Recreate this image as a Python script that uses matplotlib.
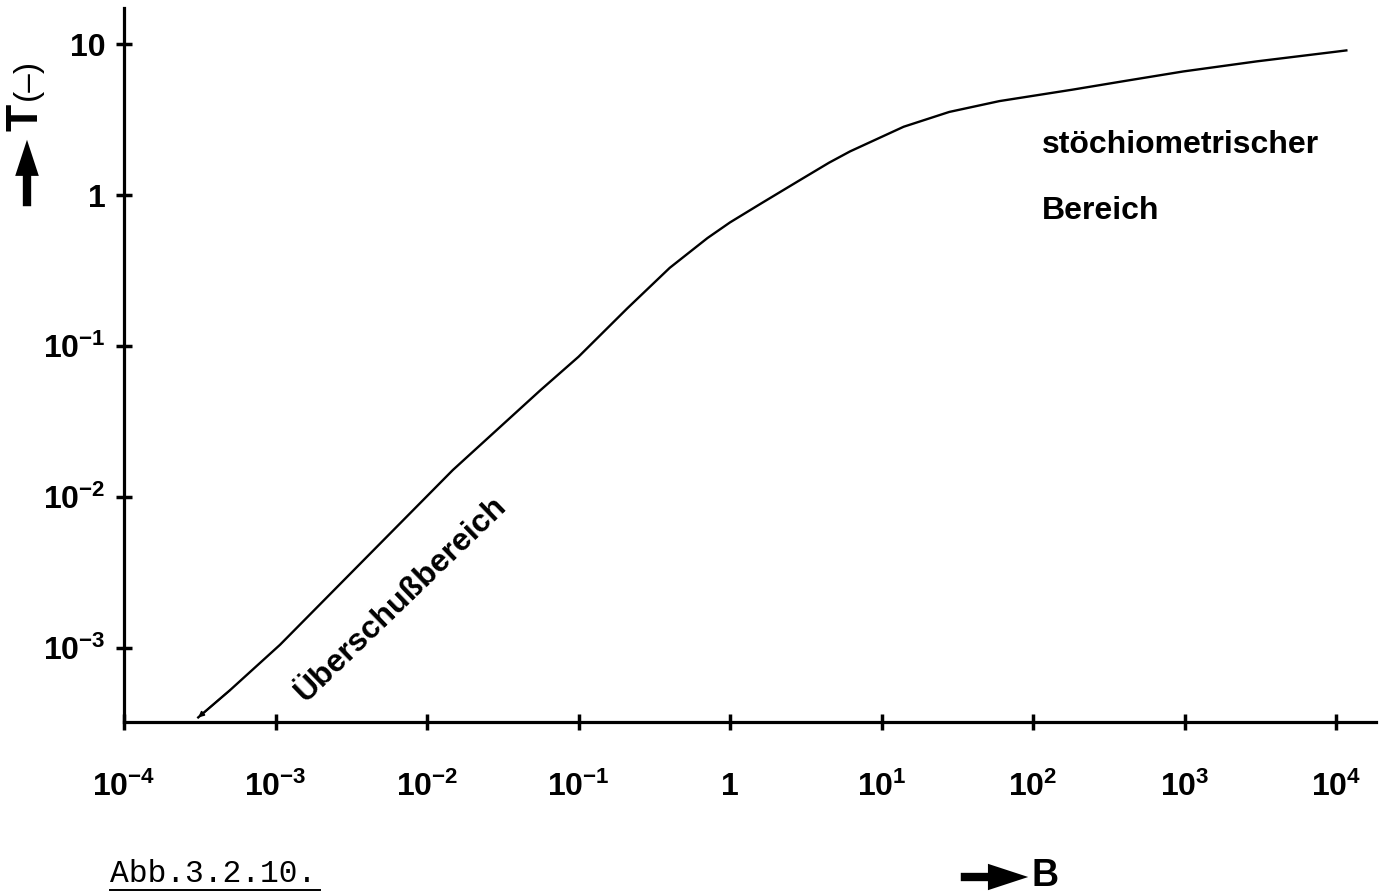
import numpy as np
import matplotlib.pyplot as plt
import matplotlib.patches as mpatches
from matplotlib.ticker import FixedLocator, NullLocator
from matplotlib.lines import Line2D

plt.rcParams['font.family'] = ['Liberation Sans', 'DejaVu Sans']
plt.rcParams['mathtext.fontset'] = 'custom'
plt.rcParams['mathtext.rm'] = 'Liberation Sans:bold'
plt.rcParams['mathtext.bf'] = 'Liberation Sans:bold'
plt.rcParams['mathtext.it'] = 'Liberation Sans:bold'

# curve (B, T)
B = [3.09e-4, 5.0e-4, 1.07e-3, 3.8e-3, 1.48e-2, 5.6e-2, 0.1, 0.21, 0.4,
     0.71, 1.0, 1.6, 2.9, 4.5, 6.2, 14, 28, 60, 182, 400, 980, 3000,
     9800, 11700]
T = [3.47e-4, 5.25e-4, 1.05e-3, 3.8e-3, 1.51e-2, 5.1e-2, 0.085, 0.178, 0.33,
     0.52, 0.66, 0.88, 1.26, 1.64, 1.95, 2.84, 3.56, 4.2, 5.0, 5.7, 6.6, 7.7,
     8.9, 9.1]

x_ticks = [1e-4, 1e-3, 1e-2, 1e-1, 1, 1e1, 1e2, 1e3, 1e4]
x_labels = [r'$10^{-4}$', r'$10^{-3}$', r'$10^{-2}$', r'$10^{-1}$', '1',
            r'$10^{1}$', r'$10^{2}$', r'$10^{3}$', r'$10^{4}$']
y_ticks = [1e-3, 1e-2, 1e-1, 1, 10]
y_labels = [r'$10^{-3}$', r'$10^{-2}$', r'$10^{-1}$', '1', '10']

W, H = 1385, 893
fig = plt.figure(figsize=(13.85, 8.93), dpi=100)
ax = fig.add_axes([124 / W, 1 - 722 / H, (1376 - 124) / W, (722 - 8) / H])

ax.plot(B, T, color='black', lw=1.7)
ax.annotate('', xy=(B[0], T[0]), xytext=(B[1], T[1]),
            arrowprops=dict(arrowstyle='-|>', color='black', lw=1.2,
                            mutation_scale=8, shrinkA=0, shrinkB=0))

ax.set_xscale('log')
ax.set_yscale('log')
ax.set_xlim(1e-4, 10 ** 4.264)
ax.set_ylim(10 ** -3.49, 10 ** 1.24)

for s in ['top', 'right']:
    ax.spines[s].set_visible(False)
for s in ['left', 'bottom']:
    ax.spines[s].set_linewidth(2.3)

ax.xaxis.set_major_locator(FixedLocator(x_ticks))
ax.xaxis.set_minor_locator(NullLocator())
ax.yaxis.set_major_locator(FixedLocator(y_ticks))
ax.yaxis.set_minor_locator(NullLocator())
ax.set_xticklabels(x_labels)
ax.set_yticklabels(y_labels)

ax.tick_params(axis='both', direction='inout', length=12, width=2.5,
               labelsize=23)
ax.tick_params(axis='x', pad=30)
ax.tick_params(axis='y', pad=7)
for lab in ax.get_xticklabels() + ax.get_yticklabels():
    lab.set_fontweight('bold')

# region labels
ax.text(1.7e-3, 4.0e-4, 'Überschußbereich', rotation=44, fontsize=23,
        fontweight='bold', ha='left', va='bottom', rotation_mode='anchor')
ax.text(115, 2.14, 'stöchiometrischer', fontsize=23, fontweight='bold',
        ha='left', va='center')
ax.text(115, 0.78, 'Bereich', fontsize=23, fontweight='bold',
        ha='left', va='center')

# y label with arrow
fig.text(26 / W, 1 - 117 / H, 'T', rotation=90, fontsize=32,
         fontweight='bold', ha='center', va='center')
fig.text(27 / W, 1 - 79 / H, '(–)', rotation=90, fontsize=24,
         ha='center', va='center')
fig.patches.append(mpatches.FancyArrowPatch(
    (27 / W, 1 - 209 / H), (27 / W, 1 - 137 / H), transform=fig.transFigure,
    arrowstyle='simple,head_length=1.3,head_width=0.85,tail_width=0.3',
    mutation_scale=20, lw=0, color='black'))

# x label with arrow
fig.patches.append(mpatches.FancyArrowPatch(
    (958 / W, 1 - 877 / H), (1031 / W, 1 - 877 / H), transform=fig.transFigure,
    arrowstyle='simple,head_length=1.45,head_width=0.95,tail_width=0.3',
    mutation_scale=20, lw=0, color='black'))
fig.text(1032 / W, 1 - 886 / H, 'B', fontsize=27, fontweight='bold',
         ha='left', va='baseline')

# caption
fig.text(110 / W, 1 - 874 / H, 'Abb.3.2.10.', fontsize=22.5,
         family='Liberation Mono', ha='left', va='center')
fig.add_artist(Line2D([110 / W, 320 / W], [1 - 890 / H, 1 - 890 / H],
                      transform=fig.transFigure, color='black', lw=1.4))

plt.savefig('out.png', dpi=100)
